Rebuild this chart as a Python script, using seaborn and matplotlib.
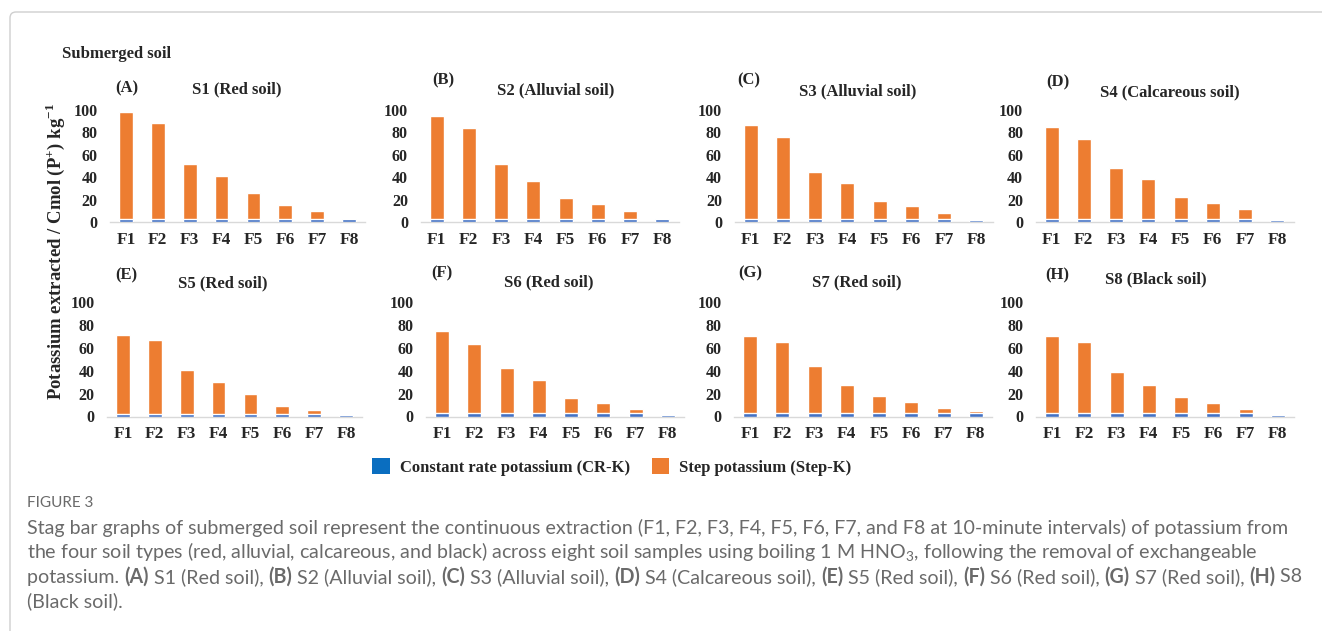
import numpy as np
import pandas as pd
import seaborn as sns
import matplotlib
matplotlib.use("Agg")
import matplotlib.pyplot as plt
from matplotlib.patches import Patch, PathPatch
from matplotlib.path import Path
from matplotlib.font_manager import FontProperties

# ---------------------------------------------------------------- data
fractions = ["F1", "F2", "F3", "F4", "F5", "F6", "F7", "F8"]

panel_letters = ["(A)", "(B)", "(C)", "(D)", "(E)", "(F)", "(G)", "(H)"]
panel_titles = ["S1 (Red soil)", "S2 (Alluvial soil)", "S3 (Alluvial soil)",
                "S4 (Calcareous soil)", "S5 (Red soil)", "S6 (Red soil)",
                "S7 (Red soil)", "S8 (Black soil)"]

# constant rate potassium (CR-K), cmol(p+) kg-1
cr_s1 = [2.5, 2.5, 2.5, 2.5, 2.5, 2.5, 2.5, 2.5]
cr_s2 = [2.5, 2.5, 2.5, 2.5, 2.5, 2.5, 2.5, 2.5]
cr_s3 = [2.5, 2.5, 2.5, 2.5, 2.5, 2.5, 2.5, 2.2]
cr_s4 = [2.5, 2.5, 2.5, 2.5, 2.5, 2.5, 2.5, 1.5]
cr_s5 = [2.6, 2.6, 2.6, 2.6, 2.6, 2.6, 2.6, 1.0]
cr_s6 = [3.0, 3.0, 3.0, 3.0, 3.0, 3.0, 3.0, 1.0]
cr_s7 = [3.3, 3.3, 3.3, 3.3, 3.3, 3.3, 3.3, 3.3]
cr_s8 = [3.0, 3.0, 3.0, 3.0, 3.0, 3.0, 3.0, 1.0]

# step potassium (Step-K), cmol(p+) kg-1
step_s1 = [95.5, 85.5, 49.5, 38.5, 23.5, 12.5, 7.5, 0.0]
step_s2 = [92.5, 81.5, 49.5, 34.5, 18.5, 13.5, 7.5, 0.0]
step_s3 = [84.0, 73.5, 42.5, 32.0, 16.5, 11.5, 5.7, 0.0]
step_s4 = [82.0, 71.8, 46.0, 35.5, 20.0, 14.3, 9.0, 0.0]
step_s5 = [69.0, 64.0, 38.3, 27.7, 17.0, 7.0, 3.0, 0.0]
step_s6 = [71.5, 60.5, 39.5, 29.0, 13.5, 8.5, 3.8, 0.0]
step_s7 = [67.0, 62.0, 40.8, 24.6, 14.7, 9.0, 3.9, 1.2]
step_s8 = [67.0, 62.0, 35.5, 24.7, 14.3, 9.2, 3.6, 0.0]

cr_all = [cr_s1, cr_s2, cr_s3, cr_s4, cr_s5, cr_s6, cr_s7, cr_s8]
step_all = [step_s1, step_s2, step_s3, step_s4, step_s5, step_s6, step_s7, step_s8]

y_ticks = [0, 20, 40, 60, 80, 100]
legend_labels = ["Constant rate potassium (CR-K)", "Step potassium (Step-K)"]
y_label = r"Potassium extracted / Cmol (P$^{\mathbf{+}}$) kg$^{\mathbf{-1}}$"

caption_title = "FIGURE 3"
caption_lines = [
    [("Stag bar graphs of submerged soil represent the continuous extraction "
      "(F1, F2, F3, F4, F5, F6, F7, and F8 at 10-minute intervals) of potassium from", False)],
    [("the four soil types (red, alluvial, calcareous, and black) across eight soil "
      "samples using boiling 1 M HNO$_3$, following the removal of exchangeable", False)],
    [("potassium. ", False), ("(A)", True), (" S1 (Red soil), ", False), ("(B)", True),
     (" S2 (Alluvial soil), ", False), ("(C)", True), (" S3 (Alluvial soil), ", False),
     ("(D)", True), (" S4 (Calcareous soil), ", False), ("(E)", True),
     (" S5 (Red soil), ", False), ("(F)", True), (" S6 (Red soil), ", False),
     ("(G)", True), (" S7 (Red soil), ", False), ("(H)", True), (" S8", False)],
    [("(Black soil).", False)],
]

# ---------------------------------------------------------------- style
sns.set_style("white")
plt.rcParams["font.family"] = ["Liberation Serif", "DejaVu Serif"]
plt.rcParams["mathtext.fontset"] = "custom"
plt.rcParams["mathtext.rm"] = "Lato"
plt.rcParams["mathtext.bf"] = "Liberation Serif:bold"

BLUE_BAR = "#4472C4"
BLUE_KEY = "#0a6ec0"
ORANGE = "#ED7D31"
AXIS_GREY = "#d9d9d9"
CAPTION_GREY = "#6a6a6a"

W, H = 1322, 631
fig = plt.figure(figsize=(W / 100, H / 100), dpi=100)


def fx(px):
    return px / W


def fy(py):
    return 1 - py / H


# outer frame of the figure block: top and left edges with a rounded corner
r = 6
verts = [(fx(W + 5), fy(12)), (fx(10 + r), fy(12)),
         (fx(10), fy(12)), (fx(10), fy(12 + r)),
         (fx(10), fy(H + 5))]
codes = [Path.MOVETO, Path.LINETO, Path.CURVE3, Path.CURVE3, Path.LINETO]
fig.patches.append(PathPatch(Path(verts, codes), transform=fig.transFigure,
                             facecolor="none", edgecolor="#cfcfcf",
                             linewidth=1.0, zorder=0))

bold_serif = dict(family="Liberation Serif", weight="bold")

# panel geometry in pixels
lefts = [110, 420.5, 734.5, 1035.5, 107, 426, 734, 1036]
widths = [255, 258, 258, 258, 255, 258, 258, 258]
base_top, top_top = 222, 110
base_bot, top_bot = 416.5, 302
letter_pos = [(127, 88), (443, 80), (749, 80), (1058, 82),
              (126, 275), (442, 273), (750, 273), (1057, 275)]
title_pos = [(237, 89), (556, 90), (858, 91), (1170, 92),
             (223, 283), (549, 282), (857, 282), (1156, 279)]

for i in range(8):
    row = i // 4
    base, top = (base_top, top_top) if row == 0 else (base_bot, top_bot)
    left = lefts[i]
    ax = fig.add_axes([fx(left), fy(base), fx(widths[i]), fy(top) - fy(base)])

    cr = np.array(cr_all[i])
    step = np.array(step_all[i])
    df = pd.DataFrame({"fraction": fractions, "CR-K": cr, "total": cr + step})

    # stacked bars: full height (Step-K on top, orange) then CR-K at the base
    sns.barplot(data=df, x="fraction", y="total", color=ORANGE, saturation=1,
                width=0.43, errorbar=None, ax=ax, zorder=2)
    sns.barplot(data=df, x="fraction", y="CR-K", color=BLUE_BAR, saturation=1,
                width=0.43, errorbar=None, ax=ax, zorder=3)

    ax.set_xlim(-0.5, 7.5)
    ax.set_ylim(0, 100)
    ax.set_yticks(y_ticks)
    ax.set_xlabel("")
    ax.set_ylabel("")
    ax.tick_params(axis="both", length=0)
    ax.tick_params(axis="x", pad=7, labelsize=12.5)
    ax.tick_params(axis="y", pad=9, labelsize=11.5)
    for lab in ax.get_xticklabels() + ax.get_yticklabels():
        lab.set_fontweight("bold")
        lab.set_family("Liberation Serif")
    for side in ["left", "right", "top"]:
        ax.spines[side].set_visible(False)
    ax.spines["bottom"].set_color(AXIS_GREY)
    ax.spines["bottom"].set_linewidth(1.0)
    ax.set_facecolor("none")
    ax.grid(False)

    fig.text(fx(letter_pos[i][0]), fy(letter_pos[i][1]), panel_letters[i],
             ha="center", va="center", fontsize=12, **bold_serif)
    fig.text(fx(title_pos[i][0]), fy(title_pos[i][1]), panel_titles[i],
             ha="center", va="center", fontsize=12, **bold_serif)

fig.text(fx(62), fy(54), "Submerged soil", ha="left", va="center",
         fontsize=12, **bold_serif)
fig.text(fx(55), fy(251), y_label, rotation=90, ha="center", va="center",
         fontsize=13.5, **bold_serif)

# legend
handles = [Patch(facecolor=BLUE_KEY, edgecolor="none"),
           Patch(facecolor=ORANGE, edgecolor="none")]
fig.legend(handles, legend_labels, loc="center",
           bbox_to_anchor=(fx(612), fy(467)), ncol=2, frameon=False,
           handlelength=1.05, handleheight=1.05, handletextpad=0.6,
           columnspacing=1.3,
           prop=FontProperties(family="Liberation Serif", weight="bold", size=12))

# caption
cap_font = "Lato"
fig.text(fx(27), fy(503), caption_title, ha="left", va="center",
         fontsize=11, family=cap_font, color=CAPTION_GREY)

renderer = fig.canvas.get_renderer()

# choose the caption size so that the third line spans the text block
probe_size = 12.0
probe_w = 0.0
for text, is_bold in caption_lines[2]:
    t = fig.text(0, 0, text, fontsize=probe_size, family=cap_font,
                 weight="bold" if is_bold else "normal")
    probe_w += t.get_window_extent(renderer).width
    t.remove()
cap_size = probe_size * (1295 - 27) / probe_w

line_y = [528, 552, 577, 601]
for runs, yy in zip(caption_lines, line_y):
    x = 27
    for text, is_bold in runs:
        t = fig.text(fx(x), fy(yy), text, ha="left", va="center",
                     fontsize=cap_size, family=cap_font, color=CAPTION_GREY,
                     weight="bold" if is_bold else "normal")
        x += t.get_window_extent(renderer).width

fig.savefig("out.png", dpi=100, facecolor="white")
